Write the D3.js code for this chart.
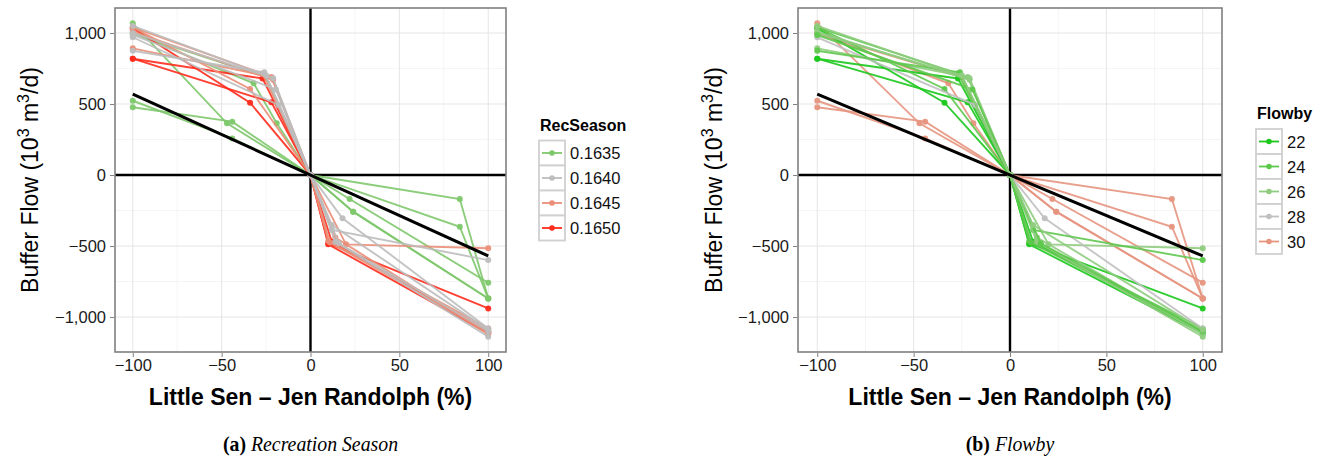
<!DOCTYPE html>
<html><head><meta charset="utf-8">
<script src="https://cdn.jsdelivr.net/npm/d3@7"></script>
<style>body{margin:0;background:#fff}svg{display:block}</style></head>
<body>
<svg id="c" width="1325" height="463"></svg>
<script>
// ---- data ----
const recSeasons = ["0.1635", "0.1640", "0.1645", "0.1650"];
const flowbys = ["22", "24", "26", "28", "30"];
const recColors = ["#7ec86c", "#bdbdbd", "#ea8e78", "#ff2b1c"];
const flowColors = ["#1cc81c", "#5ec84c", "#8fcc80", "#c0c0c0", "#e6957f"];
const xTicks = [-100, -50, 0, 50, 100];
const yTicks = [-1000, -500, 0, 500, 1000];

// each run: RecSeason, Flowby, x values (%), buffer flow values
const runRec  = ["0.1635","0.1635","0.1635","0.1635","0.1635",
                 "0.1650","0.1650","0.1650",
                 "0.1645","0.1645","0.1645","0.1645",
                 "0.1640","0.1640","0.1640","0.1640","0.1640"];
const runFlow = ["30","30","30","30","30",
                 "22","22","22",
                 "24","26","24","26",
                 "28","24","26","24","26"];
const runX = [
  [-100, -47, 0, 84, 100],
  [-100, -44, 0, 22, 100],
  [-100, -44, 0, 24, 100],
  [-100, -32, -19, 0, 84, 100],
  [-100, -25, 0, 24, 100],
  [-100, -34, 0, 10, 100],
  [-100, -22, 0, 10, 100],
  [-100, -27, 0, 12, 100],
  [-100, -34, 0, 11, 100],
  [-100, -22, 0, 20, 100],
  [-100, -27, 0, 10, 100],
  [-100, -21, 0, 14, 100],
  [-100, -18, 0, 18, 100],
  [-100, -26, 0, 12, 100],
  [-100, -21, 0, 14, 100],
  [-100, -19.5, 0, 16, 100],
  [-100, -25, 0, 12, 100]
];
const runY = [
  [1068, 364, 0, -169, -869],
  [523, 258, 0, -169, -758],
  [477, 376, 0, -258, -869],
  [1000, 646, 364, 0, -364, -869],
  [995, 690, 0, -258, -869],
  [1033, 509, 0, -488, -1115],
  [819, 512, 0, -480, -939],
  [819, 680, 0, -470, -1100],
  [1040, 606, 0, -475, -1105],
  [892, 690, 0, -488, -516],
  [1040, 715, 0, -465, -1080],
  [1010, 670, 0, -440, -1120],
  [970, 493, 0, -305, -1080],
  [875, 723, 0, -387, -599],
  [1000, 681, 0, -470, -1138],
  [986, 603, 0, -481, -1100],
  [1050, 700, 0, -352, -1090]
];
const refX = [-100, 100];
const refY = [570, -570];

// ---- drawing ----
const svg = d3.select("#c");
const FONT = "'Liberation Sans', Arial, sans-serif";

function panel(o) {
  const x = d3.scaleLinear().domain([-110, 110]).range([o.left, o.right]);
  const y = d3.scaleLinear().domain([-1246, 1176]).range([352, 8]);
  const g = svg.append("g");
  const clipId = "clip" + o.id;
  svg.append("clipPath").attr("id", clipId).append("rect")
    .attr("x", o.left).attr("y", 8).attr("width", o.right - o.left).attr("height", 344);

  const xMinor = xTicks.slice(0, -1).map((t, i) => (t + xTicks[i + 1]) / 2);
  const yMinor = yTicks.slice(0, -1).map((t, i) => (t + yTicks[i + 1]) / 2);
  g.selectAll(".xm").data(xMinor).enter().append("line")
    .attr("x1", d => x(d)).attr("x2", d => x(d)).attr("y1", 8).attr("y2", 352)
    .attr("stroke", "#f2f2f2").attr("stroke-width", 0.8);
  g.selectAll(".ym").data(yMinor).enter().append("line")
    .attr("y1", d => y(d)).attr("y2", d => y(d)).attr("x1", o.left).attr("x2", o.right)
    .attr("stroke", "#f2f2f2").attr("stroke-width", 0.8);
  g.selectAll(".xg").data(xTicks).enter().append("line")
    .attr("x1", d => x(d)).attr("x2", d => x(d)).attr("y1", 8).attr("y2", 352)
    .attr("stroke", "#e5e5e5").attr("stroke-width", 1);
  g.selectAll(".yg").data(yTicks).enter().append("line")
    .attr("y1", d => y(d)).attr("y2", d => y(d)).attr("x1", o.left).attr("x2", o.right)
    .attr("stroke", "#e5e5e5").attr("stroke-width", 1);

  const pg = g.append("g").attr("clip-path", `url(#${clipId})`);
  pg.append("line").attr("x1", x(0)).attr("x2", x(0)).attr("y1", 8).attr("y2", 352)
    .attr("stroke", "#000").attr("stroke-width", 2.4);
  pg.append("line").attr("y1", y(0)).attr("y2", y(0)).attr("x1", o.left).attr("x2", o.right)
    .attr("stroke", "#000").attr("stroke-width", 2.4);

  const line = d3.line().x(d => x(d[0])).y(d => y(d[1]));
  const runs = runX.map((xs, i) => ({
    pts: xs.map((v, j) => [v, runY[i][j]]),
    color: o.colorOf(i)
  }));
  runs.forEach(r => {
    pg.append("path").attr("d", line(r.pts)).attr("fill", "none")
      .attr("stroke", r.color).attr("stroke-width", 1.9).attr("stroke-opacity", 0.9);
    pg.selectAll(null).data(r.pts).enter().append("circle")
      .attr("cx", d => x(d[0])).attr("cy", d => y(d[1])).attr("r", 3)
      .attr("fill", r.color).attr("fill-opacity", 0.95);
  });
  pg.append("path").attr("d", line(refX.map((v, i) => [v, refY[i]])))
    .attr("fill", "none").attr("stroke", "#000").attr("stroke-width", 3);

  g.append("rect").attr("x", o.left).attr("y", 8).attr("width", o.right - o.left).attr("height", 344)
    .attr("fill", "none").attr("stroke", "#808080").attr("stroke-width", 1.6);

  const fmt = d3.format(",");
  const ax = g.append("g").attr("transform", "translate(0,353)")
    .call(d3.axisBottom(x).tickValues(xTicks).tickFormat(fmt).tickSize(4).tickPadding(2));
  const ay = g.append("g").attr("transform", `translate(${o.left - 1},0)`)
    .call(d3.axisLeft(y).tickValues(yTicks).tickFormat(fmt).tickSize(4).tickPadding(4));
  [ax, ay].forEach(a => {
    a.select(".domain").remove();
    a.selectAll(".tick line").attr("stroke", "#808080").attr("stroke-width", 1);
    a.selectAll(".tick text").attr("fill", "#1a1a1a").style("font-family", FONT).style("font-size", "16.5px");
  });
  ay.selectAll(".tick text").attr("dy", "0.35em");

  g.append("text").attr("x", (o.left + o.right) / 2).attr("y", 405)
    .attr("text-anchor", "middle").style("font-family", FONT).style("font-size", "23px")
    .style("font-weight", "bold").text("Little Sen \u2013 Jen Randolph (%)");
  const yt = g.append("text").attr("transform", `translate(${o.ytitleX},180) rotate(-90)`)
    .attr("text-anchor", "middle").style("font-family", FONT).style("font-size", "23px");
  yt.append("tspan").text("Buffer Flow (10");
  yt.append("tspan").attr("dy", -9).style("font-size", "16px").text("3");
  yt.append("tspan").attr("dy", 9).text(" m");
  yt.append("tspan").attr("dy", -9).style("font-size", "16px").text("3");
  yt.append("tspan").attr("dy", 9).text("/d)");

  const lg = g.append("g");
  lg.append("text").attr("x", o.legX + 1).attr("y", o.legTitleY + 6)
    .style("font-family", FONT).style("font-size", "16px").style("font-weight", "bold")
    .text(o.legTitle);
  o.keys.forEach((k, i) => {
    const cy = o.legFirstY + i * 25;
    lg.append("rect").attr("x", o.legX).attr("y", cy - 12.5).attr("width", 26).attr("height", 25)
      .attr("fill", "#fff").attr("stroke", "#d0d0d0").attr("stroke-width", 1.8);
    lg.append("line").attr("x1", o.legX + 3).attr("x2", o.legX + 23).attr("y1", cy).attr("y2", cy)
      .attr("stroke", o.keyColors[i]).attr("stroke-width", 1.8);
    lg.append("circle").attr("cx", o.legX + 13).attr("cy", cy).attr("r", 2.8).attr("fill", o.keyColors[i]);
    lg.append("text").attr("x", o.legX + 31).attr("y", cy + 6)
      .style("font-family", FONT).style("font-size", "16.5px").attr("fill", "#111").text(k);
  });

  const cap = g.append("text")
    .attr("transform", `translate(${(o.left + o.right) / 2},451) scale(0.9,1)`)
    .attr("text-anchor", "middle").style("font-family", "'Liberation Serif', 'DejaVu Serif', serif")
    .style("font-size", "22px");
  cap.append("tspan").style("font-weight", "bold").text(o.capLabel + " ");
  cap.append("tspan").style("font-style", "italic").text(o.capText);
}

panel({
  id: "a", left: 115, right: 506, ytitleX: 38,
  colorOf: i => recColors[recSeasons.indexOf(runRec[i])],
  legTitle: "RecSeason", keys: recSeasons, keyColors: recColors,
  legX: 539, legTitleY: 125, legFirstY: 153,
  capLabel: "(a)", capText: "Recreation Season"
});
panel({
  id: "b", left: 798, right: 1222, ytitleX: 722,
  colorOf: i => flowColors[flowbys.indexOf(runFlow[i])],
  legTitle: "Flowby", keys: flowbys, keyColors: flowColors,
  legX: 1256, legTitleY: 113, legFirstY: 141.5,
  capLabel: "(b)", capText: "Flowby"
});
</script>
</body></html>
